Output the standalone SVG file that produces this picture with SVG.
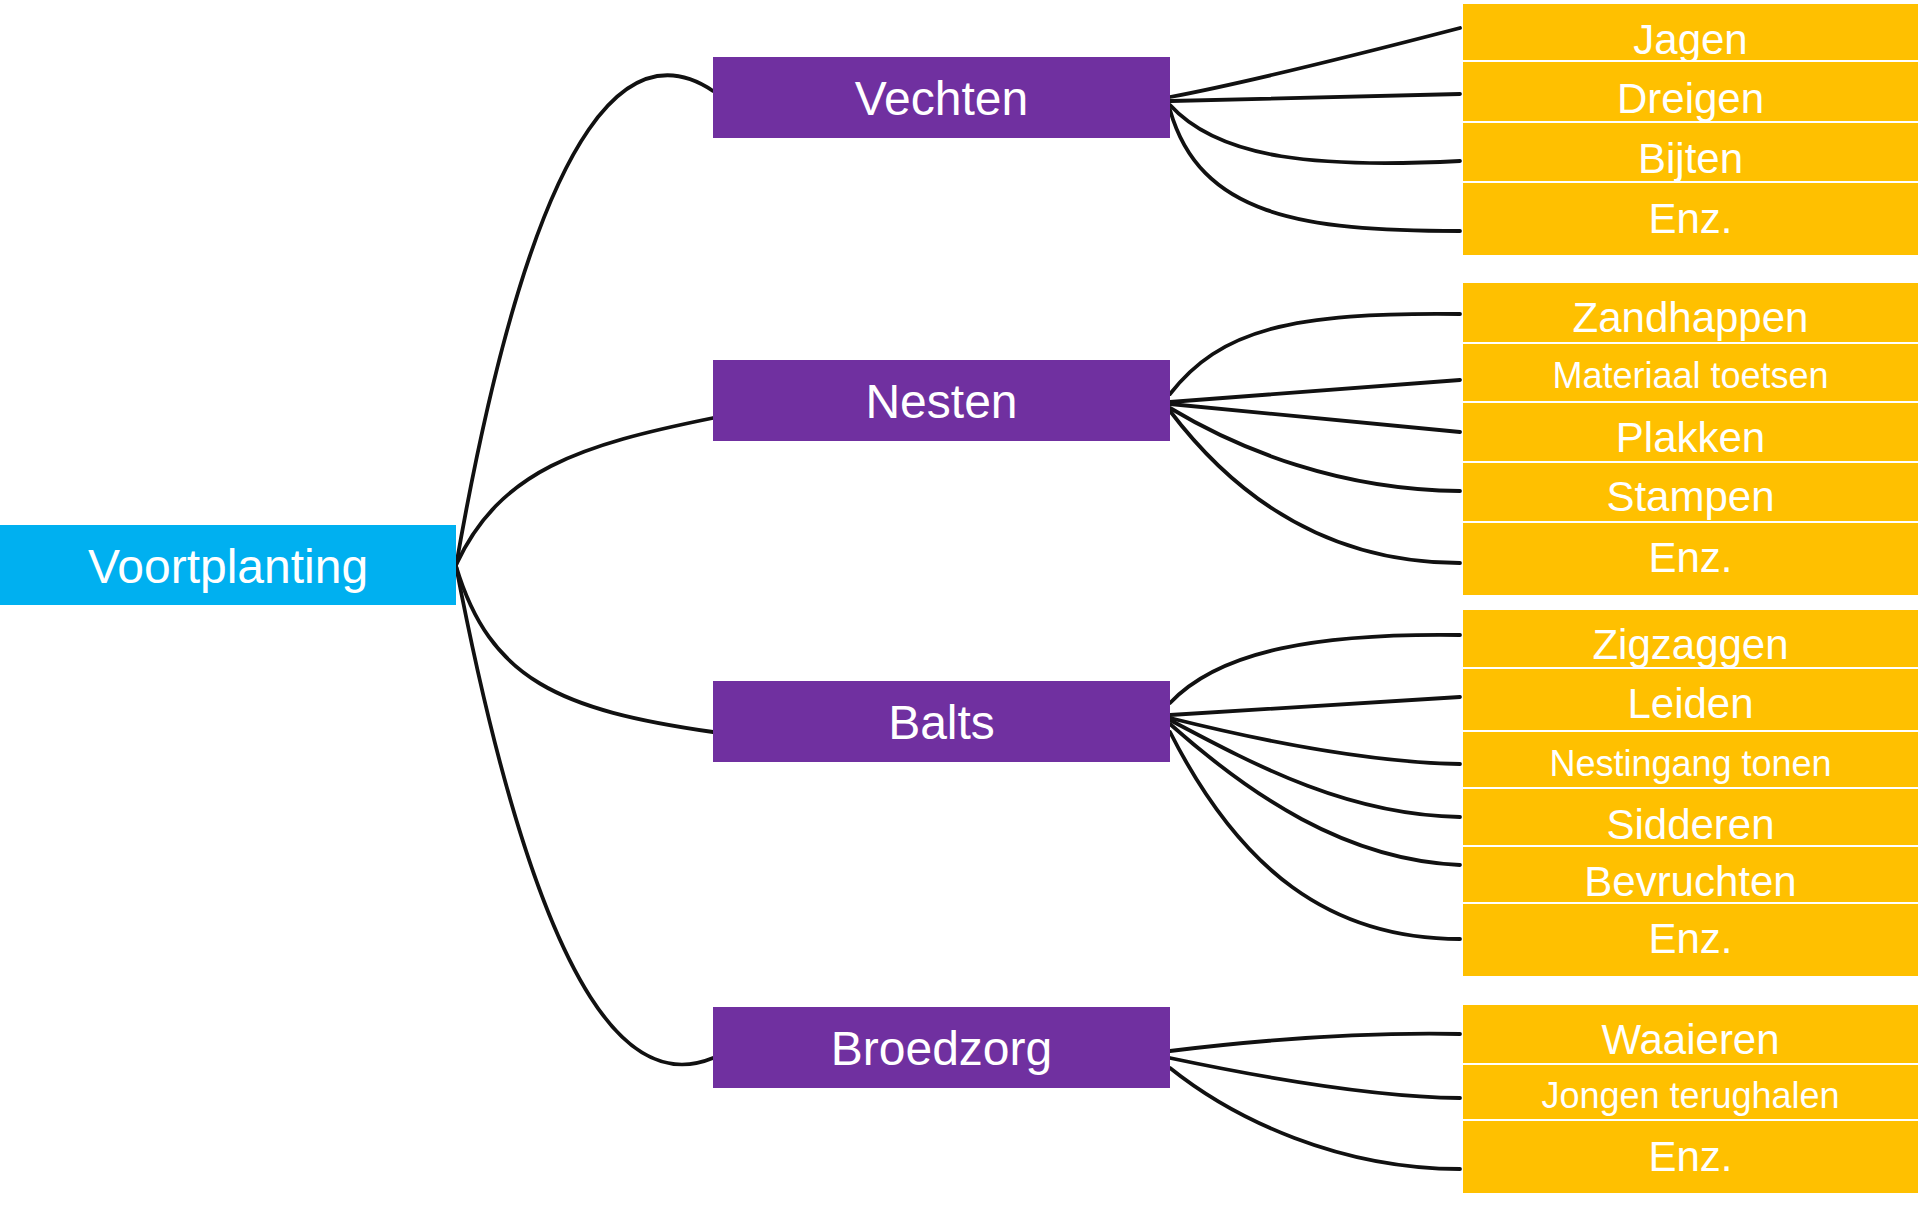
<svg xmlns="http://www.w3.org/2000/svg" width="1920" height="1209" viewBox="0 0 1920 1209">
<style>
.root{fill:#00B0F0}
.mid{fill:#7030A0}
.leaf{fill:#FFC000}
text{font-family:"Liberation Sans",Arial,sans-serif;fill:#FFFFFF;text-anchor:middle}
.t48{font-size:48px}
.t42{font-size:42px}
.t36{font-size:36px}
.conn path{fill:none;stroke:#111111;stroke-width:3.8;stroke-linecap:round}
</style>
<rect width="1920" height="1209" fill="#FFFFFF"/>
<g id="connectors" class="conn">
<path d="M456,566 C540,85 640,42 713,91"/>
<path d="M456,565 C500,470 580,445 713,418"/>
<path d="M456,566 C490,680 560,710 713,732"/>
<path d="M456,566 C545,1030 640,1088 713,1058"/>
<path d="M1170,97 C1250,82 1360,54 1460,28"/>
<path d="M1170,101 C1270,99 1370,96 1460,94"/>
<path d="M1170,105 C1220,160 1320,168 1460,161"/>
<path d="M1170,110 C1200,215 1300,231 1460,231"/>
<path d="M1170,394 C1220,330 1290,312 1460,314"/>
<path d="M1170,402 C1270,394 1370,387 1460,380"/>
<path d="M1170,404 C1270,413 1370,423 1460,432"/>
<path d="M1170,408 C1240,450 1340,490 1460,491"/>
<path d="M1170,411 C1230,490 1320,563 1460,563"/>
<path d="M1170,703 C1220,650 1320,633 1460,635"/>
<path d="M1170,715 C1270,709 1370,703 1460,697"/>
<path d="M1170,718 C1250,738 1360,762 1460,764"/>
<path d="M1170,720 C1260,768 1350,815 1460,817"/>
<path d="M1170,724 C1250,795 1345,860 1460,865"/>
<path d="M1170,732 C1240,870 1330,939 1460,939"/>
<path d="M1170,1051 C1260,1040 1360,1032 1460,1034"/>
<path d="M1170,1058 C1260,1077 1370,1097 1460,1098"/>
<path d="M1170,1068 C1235,1120 1340,1169 1460,1169"/>
</g>
<g id="voortplanting"><rect class="root" x="0" y="525" width="456" height="80"/><text class="t48" x="228" y="583">Voortplanting</text></g>
<g id="vechten"><rect class="mid" x="713" y="57" width="457" height="81"/><text class="t48" x="941.5" y="114.5">Vechten</text></g>
<g id="nesten"><rect class="mid" x="713" y="360" width="457" height="81"/><text class="t48" x="941.5" y="417.5">Nesten</text></g>
<g id="balts"><rect class="mid" x="713" y="681" width="457" height="81"/><text class="t48" x="941.5" y="738.5">Balts</text></g>
<g id="broedzorg"><rect class="mid" x="713" y="1007" width="457" height="81"/><text class="t48" x="941.5" y="1064.5">Broedzorg</text></g>
<g id="jagen"><rect class="leaf" x="1463" y="4" width="455" height="56"/><text class="t42" x="1690.5" y="54">Jagen</text></g>
<g id="dreigen"><rect class="leaf" x="1463" y="62" width="455" height="59"/><text class="t42" x="1690.5" y="113">Dreigen</text></g>
<g id="bijten"><rect class="leaf" x="1463" y="123" width="455" height="58"/><text class="t42" x="1690.5" y="173">Bijten</text></g>
<g id="enz1"><rect class="leaf" x="1463" y="183" width="455" height="72"/><text class="t42" x="1690.5" y="233">Enz.</text></g>
<g id="zandhappen"><rect class="leaf" x="1463" y="283" width="455" height="59"/><text class="t42" x="1690.5" y="332">Zandhappen</text></g>
<g id="materiaal"><rect class="leaf" x="1463" y="344" width="455" height="57"/><text class="t36" x="1690.5" y="388">Materiaal toetsen</text></g>
<g id="plakken"><rect class="leaf" x="1463" y="403" width="455" height="58"/><text class="t42" x="1690.5" y="452">Plakken</text></g>
<g id="stampen"><rect class="leaf" x="1463" y="463" width="455" height="58"/><text class="t42" x="1690.5" y="511">Stampen</text></g>
<g id="enz2"><rect class="leaf" x="1463" y="523" width="455" height="72"/><text class="t42" x="1690.5" y="572">Enz.</text></g>
<g id="zigzaggen"><rect class="leaf" x="1463" y="610" width="455" height="57"/><text class="t42" x="1690.5" y="659">Zigzaggen</text></g>
<g id="leiden"><rect class="leaf" x="1463" y="669" width="455" height="61"/><text class="t42" x="1690.5" y="718">Leiden</text></g>
<g id="nestingang"><rect class="leaf" x="1463" y="732" width="455" height="55"/><text class="t36" x="1690.5" y="776">Nestingang tonen</text></g>
<g id="sidderen"><rect class="leaf" x="1463" y="789" width="455" height="56"/><text class="t42" x="1690.5" y="839">Sidderen</text></g>
<g id="bevruchten"><rect class="leaf" x="1463" y="847" width="455" height="55"/><text class="t42" x="1690.5" y="896">Bevruchten</text></g>
<g id="enz3"><rect class="leaf" x="1463" y="904" width="455" height="72"/><text class="t42" x="1690.5" y="953">Enz.</text></g>
<g id="waaieren"><rect class="leaf" x="1463" y="1005" width="455" height="58"/><text class="t42" x="1690.5" y="1054">Waaieren</text></g>
<g id="jongen"><rect class="leaf" x="1463" y="1065" width="455" height="54"/><text class="t36" x="1690.5" y="1108">Jongen terughalen</text></g>
<g id="enz4"><rect class="leaf" x="1463" y="1121" width="455" height="72"/><text class="t42" x="1690.5" y="1171">Enz.</text></g>
</svg>
